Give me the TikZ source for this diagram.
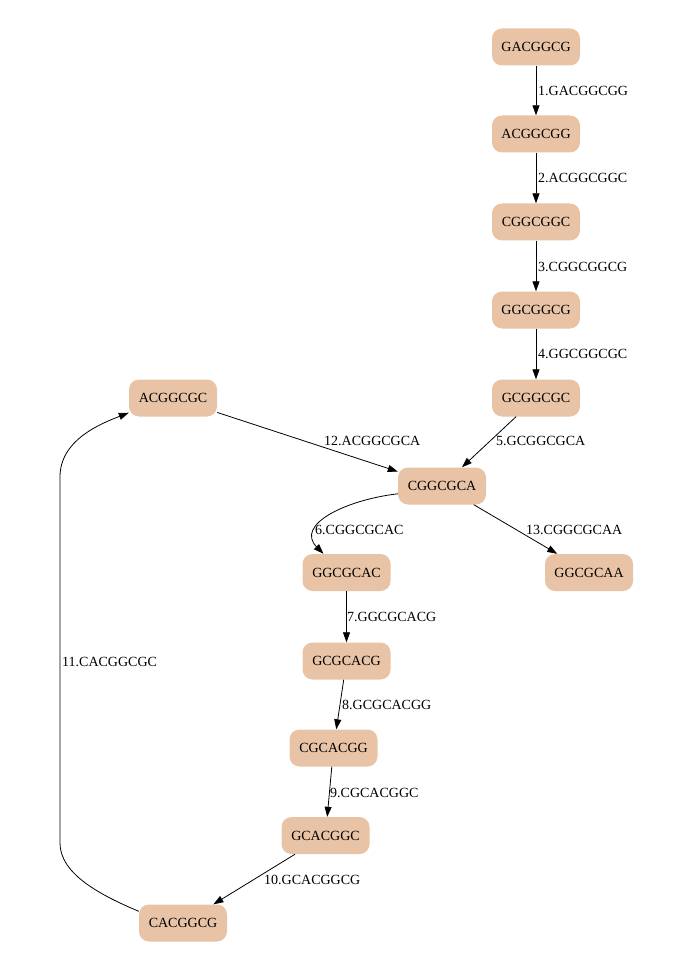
\documentclass[tikz,border=0pt]{standalone}
\usepackage{fontspec}
\setmainfont{Liberation Serif}
\usetikzlibrary{arrows.meta}
\definecolor{peach}{RGB}{232,195,165}
\begin{document}
\begin{tikzpicture}[x=1pt,y=-1pt,
  kmer/.style={fill=peach,draw=none,rounded corners=10pt,minimum width=88pt,minimum height=37pt,inner sep=0pt,font=\fontsize{14}{16}\selectfont},
  elab/.style={anchor=west,inner sep=0pt,font=\fontsize{14}{16}\selectfont},
  conn/.style={line width=0.8pt,-{Triangle[length=10pt,width=7pt]}}]
\useasboundingbox (0,0) rectangle (676,968);
\node[kmer] (n1) at (536,47) {GACGGCG};
\node[kmer] (n2) at (536,134) {ACGGCGG};
\node[kmer] (n3) at (536,222) {CGGCGGC};
\node[kmer] (n4) at (536,310) {GGCGGCG};
\node[kmer] (n5) at (536,398) {GCGGCGC};
\node[kmer] (n12) at (173,398) {ACGGCGC};
\node[kmer] (c) at (442,486) {CGGCGCA};
\node[kmer] (n6) at (346.5,572.5) {GGCGCAC};
\node[kmer] (n13) at (589,572.5) {GGCGCAA};
\node[kmer] (n7) at (346.5,661) {GCGCACG};
\node[kmer] (n8) at (333.5,748) {CGCACGG};
\node[kmer] (n9) at (325.5,835.5) {GCACGGC};
\node[kmer] (n10) at (183,923) {CACGGCG};
\draw[conn] (n1) -- (n2);
\draw[conn] (n2) -- (n3);
\draw[conn] (n3) -- (n4);
\draw[conn] (n4) -- (n5);
\draw[conn] (n5) -- (c);
\draw[conn] (n12) -- (c);
\draw[conn] (c.190) .. controls (345,500) and (295,525) .. ([xshift=-23pt]n6.north);
\draw[conn] (c) -- (n13);
\draw[conn] (n6) -- (n7);
\draw[conn] (n7) -- (n8);
\draw[conn] (n8) -- (n9);
\draw[conn] (n9) -- (n10);
\draw[conn] ([yshift=-7pt]n10.north west) .. controls (95,893) and (60,872) .. (60,843) -- (60,477) .. controls (60,440) and (100,424) .. ([yshift=4pt]n12.south west);
\node[elab] (l1) at (538,91) {1.GACGGCGG};
\node[elab] (l2) at (538,178) {2.ACGGCGGC};
\node[elab] (l3) at (538,267) {3.CGGCGGCG};
\node[elab] (l4) at (538,354) {4.GGCGGCGC};
\node[elab] (l5) at (496,441) {5.GCGGCGCA};
\node[elab] (l12) at (324,441) {12.ACGGCGCA};
\node[elab] (l6) at (315,530) {6.CGGCGCAC};
\node[elab] (l13) at (526,530) {13.CGGCGCAA};
\node[elab] (l7) at (347,617) {7.GGCGCACG};
\node[elab] (l8) at (342,705) {8.GCGCACGG};
\node[elab] (l9) at (330,793) {9.CGCACGGC};
\node[elab] (l10) at (264,880) {10.GCACGGCG};
\node[elab] (l11) at (62,662) {11.CACGGCGC};
\end{tikzpicture}
\end{document}
